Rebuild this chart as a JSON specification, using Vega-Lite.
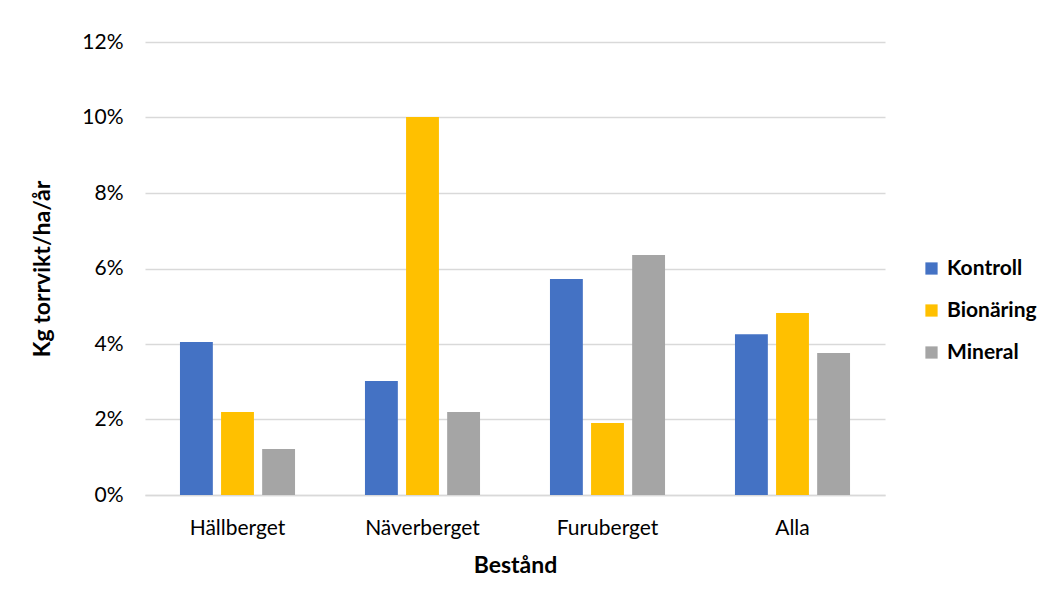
{
  "$schema": "https://vega.github.io/schema/vega-lite/v6.json",
  "autosize": {"type": "none"},
  "padding": {"left": 145, "top": 42, "right": 171, "bottom": 110},
  "width": 740,
  "height": 453,
  "background": "white",
  "data": {
    "values": [
      {"bestand": "Hällberget", "behandling": "Kontroll", "andel": 0.0405},
      {"bestand": "Hällberget", "behandling": "Bionäring", "andel": 0.022},
      {"bestand": "Hällberget", "behandling": "Mineral", "andel": 0.0122},
      {"bestand": "Näverberget", "behandling": "Kontroll", "andel": 0.0302},
      {"bestand": "Näverberget", "behandling": "Bionäring", "andel": 0.1001},
      {"bestand": "Näverberget", "behandling": "Mineral", "andel": 0.022},
      {"bestand": "Furuberget", "behandling": "Kontroll", "andel": 0.0572},
      {"bestand": "Furuberget", "behandling": "Bionäring", "andel": 0.0191},
      {"bestand": "Furuberget", "behandling": "Mineral", "andel": 0.0636},
      {"bestand": "Alla", "behandling": "Kontroll", "andel": 0.0426},
      {"bestand": "Alla", "behandling": "Bionäring", "andel": 0.0482},
      {"bestand": "Alla", "behandling": "Mineral", "andel": 0.0376}
    ]
  },
  "mark": {"type": "bar"},
  "encoding": {
    "x": {
      "field": "bestand",
      "type": "nominal",
      "sort": ["Hällberget", "Näverberget", "Furuberget", "Alla"],
      "scale": {"paddingInner": 0.378, "paddingOuter": 0.189},
      "title": "Bestånd",
      "axis": {
        "labelAngle": 0,
        "labelPadding": 22,
        "titlePadding": 16,
        "ticks": false,
        "domainColor": "#d9d9d9",
        "domainWidth": 1.3
      }
    },
    "xOffset": {
      "field": "behandling",
      "type": "nominal",
      "sort": ["Kontroll", "Bionäring", "Mineral"],
      "scale": {"paddingInner": 0.2, "paddingOuter": 0}
    },
    "y": {
      "field": "andel",
      "type": "quantitative",
      "scale": {"domain": [0, 0.12]},
      "title": "Kg torrvikt/ha/år",
      "axis": {
        "format": ".0%",
        "values": [0, 0.02, 0.04, 0.06, 0.08, 0.1, 0.12],
        "domain": false,
        "ticks": false,
        "labelPadding": 22,
        "titlePadding": 27,
        "gridColor": "#d9d9d9",
        "gridWidth": 1.3
      }
    },
    "color": {
      "field": "behandling",
      "type": "nominal",
      "sort": ["Kontroll", "Bionäring", "Mineral"],
      "scale": {
        "domain": ["Kontroll", "Bionäring", "Mineral"],
        "range": ["#4472c4", "#ffc000", "#a5a5a5"]
      },
      "legend": {
        "title": null,
        "orient": "none",
        "legendX": 776,
        "legendY": 216,
        "symbolType": "square",
        "symbolSize": 150,
        "symbolStrokeWidth": 0,
        "symbolOpacity": 1,
        "rowPadding": 20,
        "labelFontWeight": "bold",
        "labelFontSize": 21,
        "labelColor": "#000000",
        "labelOffset": 5
      }
    }
  },
  "config": {
    "font": "Lato",
    "view": {"stroke": null},
    "axis": {
      "labelFont": "Lato",
      "labelFontSize": 21,
      "labelColor": "#000000",
      "titleFont": "Lato",
      "titleFontSize": 23,
      "titleFontWeight": "bold",
      "titleColor": "#000000"
    },
    "legend": {"labelFont": "Lato"}
  }
}
